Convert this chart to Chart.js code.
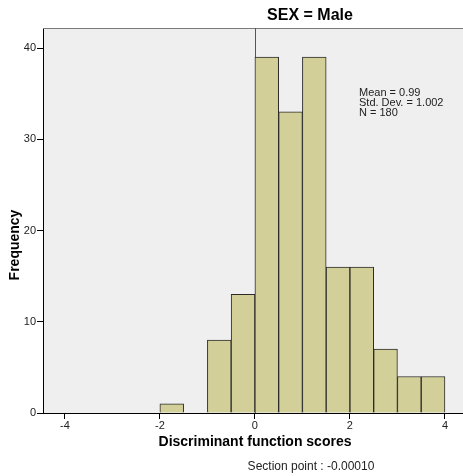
<!DOCTYPE html>
<html>
<head>
<meta charset="utf-8">
<script src="https://cdn.jsdelivr.net/npm/chart.js@4.4.1/dist/chart.umd.min.js"></script>
<style>
  html, body { margin: 0; padding: 0; background: #fff; }
  canvas { display: block; }
</style>
</head>
<body>
<canvas id="hist" width="463" height="476"></canvas>
<script>
// histogram bins (start of each 0.5-wide bin) and their frequencies
var binStarts = [-2, -1.5, -1, -0.5, 0, 0.5, 1, 1.5, 2, 2.5, 3, 3.5];
var counts    = [ 1,    0,  8,   13, 39,  33, 39,  16, 16,   7, 4,   4];
var binWidth = 0.5;
var xTicks = [-4, -2, 0, 2, 4];
var yTicks = [0, 10, 20, 30, 40];
var sectionPoint = -0.00010;
var statsLines = ['Mean = 0.99', 'Std. Dev. = 1.002', 'N = 180'];

var FONT = '"Liberation Sans", Arial, sans-serif';

var points = binStarts.map(function (b, i) {
    return { x: b + binWidth / 2, y: counts[i] };
});

var decor = {
    id: 'decor',
    beforeDraw: function (chart) {
        var a = chart.chartArea, ctx = chart.ctx;
        ctx.save();
        ctx.fillStyle = '#efefef';
        ctx.fillRect(a.left, a.top, a.right - a.left, a.bottom - a.top);
        ctx.restore();
    },
    beforeDatasetsDraw: function (chart) {
        var a = chart.chartArea, ctx = chart.ctx;
        var xs = chart.scales.x.getPixelForValue(sectionPoint);
        ctx.save();
        // frame top line
        ctx.strokeStyle = '#7a7a7a';
        ctx.lineWidth = 1;
        ctx.beginPath();
        ctx.moveTo(a.left, a.top + 0.5);
        ctx.lineTo(a.right, a.top + 0.5);
        ctx.stroke();
        // section point line
        ctx.strokeStyle = '#555';
        ctx.beginPath();
        ctx.moveTo(Math.round(xs) + 0.5, a.top);
        ctx.lineTo(Math.round(xs) + 0.5, a.bottom);
        ctx.stroke();
        ctx.restore();
    },
    afterDraw: function (chart) {
        var ctx = chart.ctx;
        ctx.save();
        ctx.fillStyle = '#000';
        ctx.textAlign = 'center';
        ctx.textBaseline = 'middle';
        ctx.font = 'bold 16px ' + FONT;
        ctx.fillText('SEX = Male', 310, 16);

        ctx.font = 'bold 14px ' + FONT;
        ctx.fillText('Discriminant function scores', 255, 442);

        ctx.save();
        ctx.translate(15, 245);
        ctx.rotate(-Math.PI / 2);
        ctx.fillText('Frequency', 0, 0);
        ctx.restore();

        ctx.fillStyle = '#222';
        ctx.font = '12px ' + FONT;
        ctx.fillText('Section point : ' + sectionPoint.toFixed(5), 311, 467);

        ctx.textAlign = 'left';
        ctx.font = '11px ' + FONT;
        statsLines.forEach(function (s, i) {
            ctx.fillText(s, 359, 93 + i * 10);
        });
        ctx.restore();
    }
};

new Chart(document.getElementById('hist'), {
    type: 'bar',
    data: {
        datasets: [{
            data: points,
            backgroundColor: '#d3cf98',
            borderColor: '#2b2b2b',
            borderWidth: 1,
            barPercentage: 1,
            categoryPercentage: 1
        }]
    },
    options: {
        responsive: false,
        animation: false,
        layout: { padding: { top: 28, right: 0, left: 0, bottom: 0 } },
        plugins: {
            legend: { display: false },
            tooltip: { enabled: false }
        },
        scales: {
            x: {
                type: 'linear',
                offset: false,
                min: -4.46,
                max: 4.38,
                afterBuildTicks: function (s) { s.ticks = xTicks.map(function (v) { return { value: v }; }); },
                afterFit: function (s) { s.height = 63; },
                grid: { drawOnChartArea: false, tickLength: 6, color: '#000', offset: false },
                border: { display: true, color: '#000', width: 1 },
                ticks: { color: '#222', padding: 0, font: { family: FONT, size: 11 }, maxRotation: 0 }
            },
            y: {
                min: 0,
                max: 42.2,
                afterBuildTicks: function (s) { s.ticks = yTicks.map(function (v) { return { value: v }; }); },
                afterFit: function (s) { s.width = 43; },
                grid: { drawOnChartArea: false, tickLength: 6, color: '#000' },
                border: { display: true, color: '#000', width: 1 },
                ticks: { color: '#222', padding: 1, font: { family: FONT, size: 11 } }
            }
        }
    },
    plugins: [decor]
});
</script>
</body>
</html>
